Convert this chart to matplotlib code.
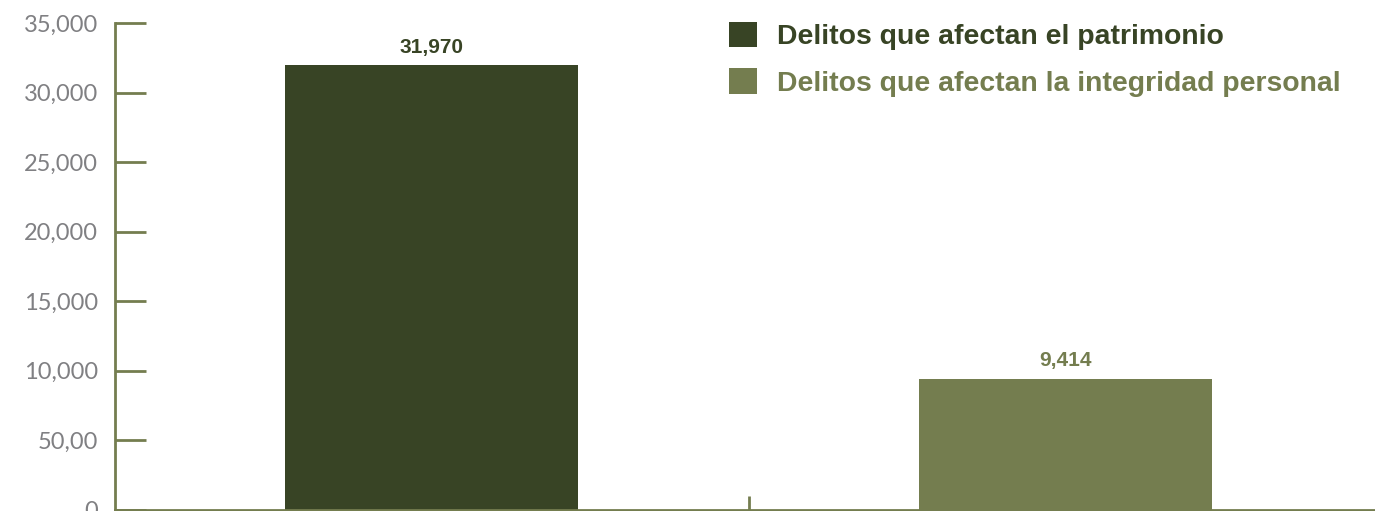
"""
Delitos por tipo - bar chart
"""
import matplotlib
matplotlib.use("Agg")
import matplotlib.pyplot as plt

categories = ['Delitos que afectan el patrimonio', 'Delitos que afectan la integridad personal']
values = [31970, 9414]
value_labels = ['31,970', '9,414']
bar_colors = ['#384425', '#747d4f']

yticks = [0, 5000, 10000, 15000, 20000, 25000, 30000, 35000]
ytick_labels = ['0', '50,00', '10,000', '15,000', '20,000', '25,000', '30,000', '35,000']

axis_color = '#747d4f'
label_gray = '#808083'


def make_chart():
    fig = plt.figure(figsize=(13.75, 5.11), dpi=100)
    ax = fig.add_axes([115 / 1375, 1.5 / 511, 1 - 115 / 1375, 486.5 / 511])

    x = list(range(len(categories)))
    bars = ax.bar(x, values, width=0.462, color=bar_colors, label=categories)

    for xi, v, txt, c in zip(x, values, value_labels, bar_colors):
        ax.annotate(txt, (xi, v), xytext=(0, 6), textcoords='offset points',
                    ha='center', va='bottom', fontsize=15, fontweight='bold',
                    color=c, family='Liberation Sans')

    ax.set_xlim(-0.5, 1.488)
    ax.set_ylim(0, 35000)
    ax.set_yticks(yticks, labels=ytick_labels)
    ax.set_xticks([0.5], labels=[''])

    for side in ['top', 'right']:
        ax.spines[side].set_visible(False)
    for side in ['left', 'bottom']:
        ax.spines[side].set_color(axis_color)
        ax.spines[side].set_linewidth(2)

    ax.tick_params(axis='y', direction='in', length=22, width=2, color=axis_color,
                   pad=12, labelsize=17, labelcolor=label_gray)
    ax.tick_params(axis='x', direction='in', length=10, width=2, color=axis_color)
    for lbl in ax.get_yticklabels():
        lbl.set_family('Lato')

    leg = fig.legend(handles=list(bars), labels=categories, loc='upper left',
                     bbox_to_anchor=(729 / 1375, 1 - 22 / 511), frameon=False,
                     handlelength=1.0, handleheight=1.0, handletextpad=0.68,
                     labelspacing=0.63, borderpad=0, borderaxespad=0,
                     prop={'family': 'Liberation Sans', 'weight': 'bold', 'size': 20.4})
    for t, c in zip(leg.get_texts(), bar_colors):
        t.set_color(c)

    fig.savefig('out.png', dpi=100)


if __name__ == "__main__":
    make_chart()
